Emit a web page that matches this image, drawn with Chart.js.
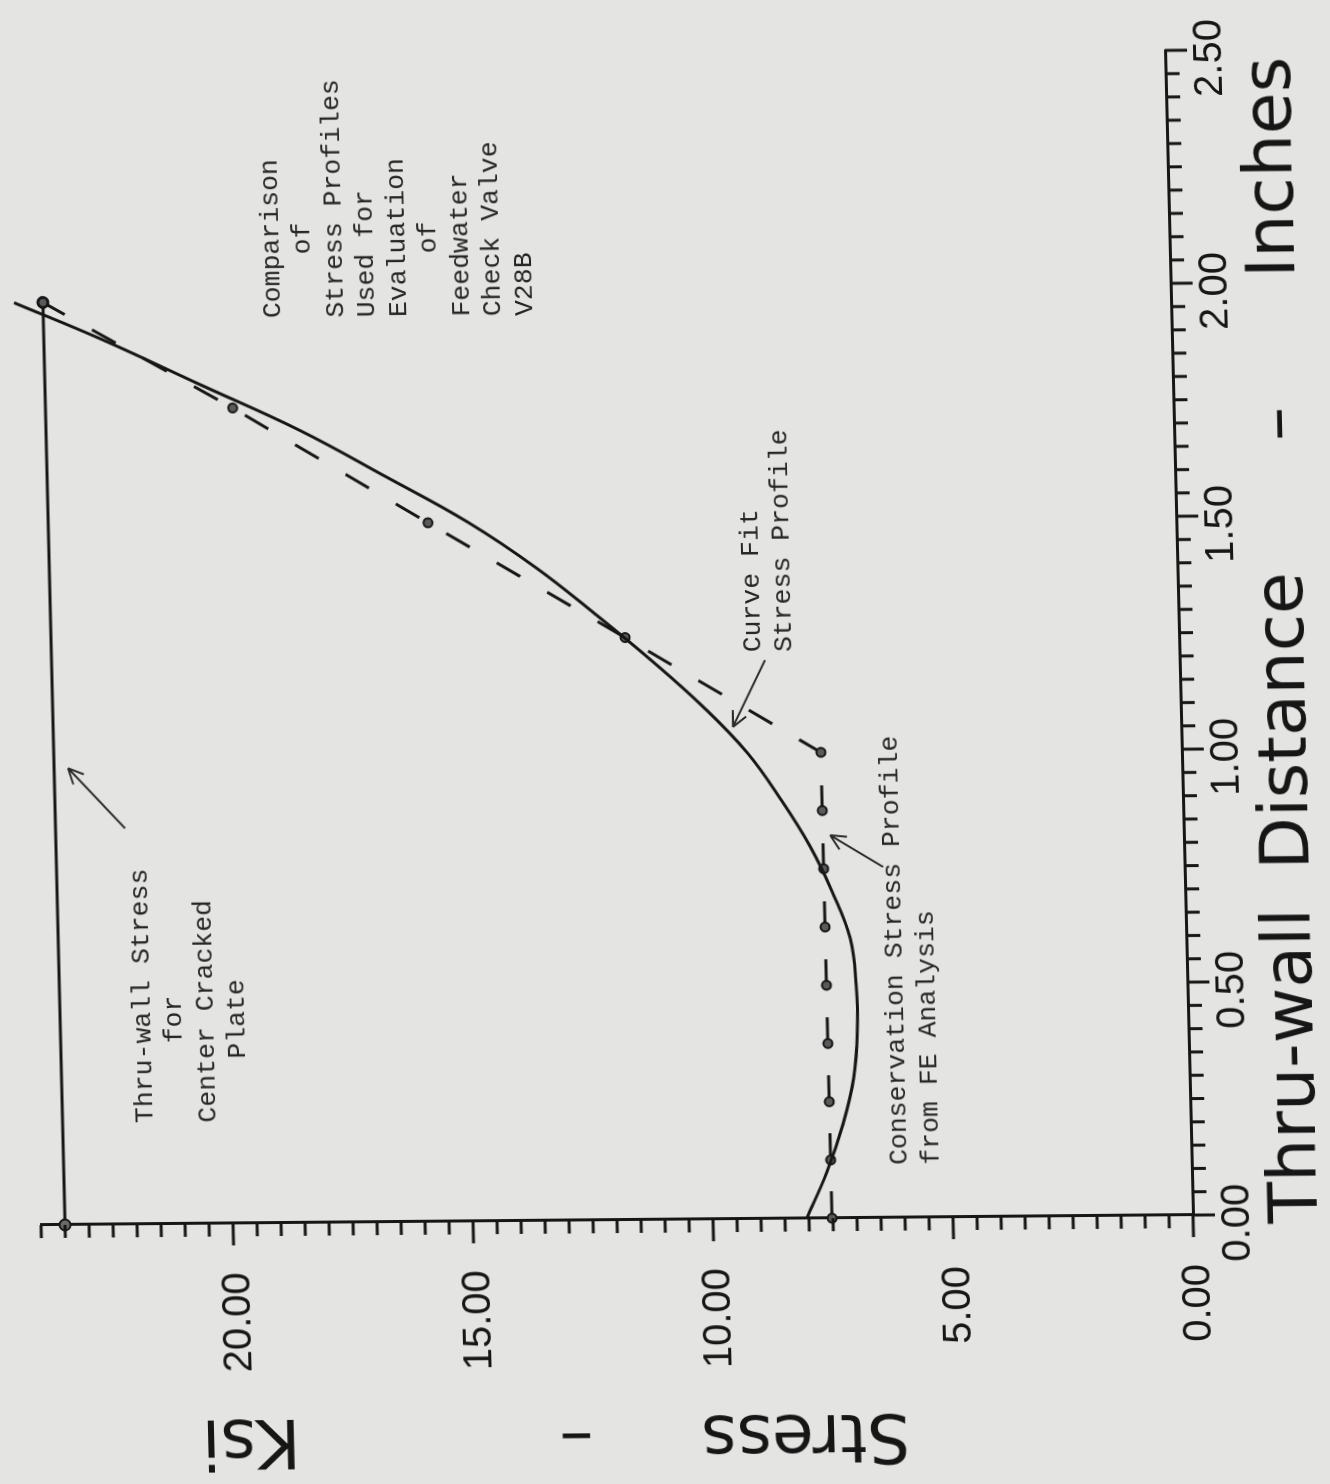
<!DOCTYPE html>
<html>
<head>
<meta charset="utf-8">
<script src="https://cdn.jsdelivr.net/npm/chart.js@4.4.0/dist/chart.umd.min.js"></script>
<style>
  html, body { margin: 0; padding: 0; background: #e4e4e2; overflow: hidden; width: 1330px; height: 1484px; }
  /* plot is drawn upright, then turned a quarter turn (plus the scan's slight skew) */
  #wrap { position: absolute; left: 0; top: 0; width: 1484px; height: 1330px;
    transform-origin: 0 0; transform: matrix(-0.024, -1, 1, -0.0087, 4.5, 1494.4); }
  canvas { display: block; }
</style>
</head>
<body>
<div id="wrap"><canvas id="chart" width="1484" height="1330"></canvas></div>
<script>
// Thru-wall distance (in) and stress (ksi)
const curveDist = [0, 0.1, 0.2, 0.3, 0.4, 0.5, 0.6, 0.7, 0.8, 0.9, 1.0, 1.1, 1.2, 1.3, 1.4, 1.5, 1.6, 1.7, 1.8, 1.9, 1.98];
const curveStress = [8.05, 7.6, 7.25, 7.0, 6.9, 6.9, 7.0, 7.35, 7.8, 8.38, 9.05, 9.95, 11.0, 12.14, 13.34, 14.75, 16.45, 18.2, 20.25, 22.3, 24.1];

const feDist = [0, 0.125, 0.25, 0.375, 0.5, 0.625, 0.75, 0.875, 1.0, 1.25, 1.5, 1.75, 1.98];
const feStress = [7.52, 7.52, 7.52, 7.52, 7.52, 7.52, 7.52, 7.52, 7.52, 11.54, 15.59, 19.6, 23.5];

const plateDist = [0, 1.98];
const plateStress = [23.5, 23.5];

const distLabels = [0, 0.5, 1.0, 1.5, 2.0, 2.5];
const stressLabels = [0, 5, 10, 15, 20];

const noteTitle = ['Comparison', '    of', 'Stress Profiles', 'Used for', 'Evaluation', '    of', 'Feedwater', 'Check Valve', 'V28B'];
const notePlate = ['Thru-wall Stress', '     for', 'Center Cracked', '    Plate'];
const noteCurve = ['Curve Fit', 'Stress Profile'];
const noteFE = ['Conservation Stress Profile', 'from FE Analysis'];

const ink = '#161616';
const pts = (xs, ys) => xs.map((x, i) => ({ x, y: ys[i] }));
const isOn = (v, list) => list.some(t => Math.abs(t - v) < 1e-6);

// where the notes sit, in data units (first line start), and arrows tail -> tip
const notes = [
  { lines: noteTitle, at: [1.942, 18.71] },
  { lines: notePlate, at: [0.217, 21.78] },
  { lines: noteCurve, at: [1.216, 8.88] },
  { lines: noteFE, at: [0.113, 6.08] }
];
const arrows = [
  { from: [0.85, 22.05], to: [0.98, 23.21] },
  { from: [1.199, 8.64], to: [1.056, 9.34] },
  { from: [0.753, 6.28], to: [0.822, 7.37] }
];
const distTitle = [['Thru-wall', -0.02], ['Distance', 0.74], ['\u2013', 1.66], ['Inches', 2.01]];
const stressTitle = [['Stress', 6.0], ['\u2013', 12.6], ['Ksi', 18.7]];

const extras = {
  id: 'extras',
  afterDraw(chart) {
    const { ctx, chartArea: a, scales: { x, y } } = chart;
    ctx.save();
    ctx.strokeStyle = ink;
    ctx.lineWidth = 3;
    ctx.lineCap = 'butt';
    ctx.beginPath();
    x.ticks.forEach(t => {
      const px = x.getPixelForValue(t.value);
      const len = isOn(t.value, distLabels) ? 22 : 14;
      ctx.moveTo(px, a.bottom); ctx.lineTo(px, a.bottom + len);
    });
    y.ticks.forEach(t => {
      const py = y.getPixelForValue(t.value);
      const len = isOn(t.value, stressLabels) ? 22 : 13;
      ctx.moveTo(a.left, py); ctx.lineTo(a.left - len, py);
    });
    ctx.stroke();

    // typed notes
    ctx.fillStyle = '#262626';
    ctx.font = '26.5px "Liberation Mono", "DejaVu Sans Mono", monospace';
    ctx.textBaseline = 'middle';
    ctx.textAlign = 'left';
    notes.forEach(n => {
      const px = x.getPixelForValue(n.at[0]);
      const py = y.getPixelForValue(n.at[1]);
      n.lines.forEach((s, i) => ctx.fillText(s, px, py + i * 31.5));
    });

    // arrows
    ctx.strokeStyle = '#2b2b2b';
    ctx.lineWidth = 2;
    arrows.forEach(r => {
      const x1 = x.getPixelForValue(r.from[0]), y1 = y.getPixelForValue(r.from[1]);
      const x2 = x.getPixelForValue(r.to[0]), y2 = y.getPixelForValue(r.to[1]);
      const ang = Math.atan2(y2 - y1, x2 - x1);
      ctx.beginPath();
      ctx.moveTo(x1, y1); ctx.lineTo(x2, y2);
      [0.45, -0.45].forEach(d => {
        ctx.moveTo(x2, y2);
        ctx.lineTo(x2 - 17 * Math.cos(ang + d), y2 - 17 * Math.sin(ang + d));
      });
      ctx.stroke();
    });

    // axis titles
    ctx.fillStyle = ink;
    ctx.font = '68px "DejaVu Sans", sans-serif';
    ctx.textBaseline = 'alphabetic';
    distTitle.forEach(([s, d]) => ctx.fillText(s, x.getPixelForValue(d), a.bottom + 124));
    ctx.translate(a.left - 197, 0);
    ctx.rotate(-Math.PI / 2);
    stressTitle.forEach(([s, v]) => ctx.fillText(s, -y.getPixelForValue(v), 0));
    ctx.restore();
  }
};

const tickFont = { family: '"Liberation Sans", Arial, sans-serif', size: 40 };
const noPad = s => { s.paddingTop = 0; s.paddingBottom = 0; s.paddingLeft = 0; s.paddingRight = 0; };

new Chart(document.getElementById('chart'), {
  type: 'line',
  data: {
    datasets: [
      {
        data: pts(curveDist, curveStress),
        borderColor: ink, borderWidth: 3, tension: 0.4,
        pointRadius: 0, clip: false
      },
      {
        data: pts(feDist, feStress),
        borderColor: ink, borderWidth: 3, borderDash: [27, 31], tension: 0,
        pointRadius: 4.5, pointBackgroundColor: '#5a5a5a', pointBorderColor: ink, pointBorderWidth: 2,
        clip: false
      },
      {
        data: pts(plateDist, plateStress),
        borderColor: ink, borderWidth: 3, tension: 0,
        pointRadius: 5.5, pointBackgroundColor: '#6a6a6a', pointBorderColor: ink, pointBorderWidth: 2,
        clip: false
      }
    ]
  },
  options: {
    responsive: false,
    animation: false,
    devicePixelRatio: 1,
    layout: { padding: { left: 0, right: 50, top: 43, bottom: 0 } },
    plugins: { legend: { display: false }, tooltip: { enabled: false } },
    scales: {
      x: {
        type: 'linear', position: 'bottom', min: 0, max: 2.5,
        afterFit: s => { s.height = 135; noPad(s); },
        grid: { display: false, drawTicks: false },
        border: { display: true, color: ink, width: 3 },
        ticks: {
          stepSize: 0.05, maxTicksLimit: 100, autoSkip: false, maxRotation: 0, minRotation: 0,
          padding: 21, labelOffset: -8, color: ink, font: tickFont,
          callback: v => isOn(v, distLabels) ? v.toFixed(2) : ''
        }
      },
      y: {
        type: 'linear', position: 'left', min: 0, max: 24,
        afterFit: s => { s.width = 269; noPad(s); },
        grid: { display: false, drawTicks: false },
        border: { display: true, color: ink, width: 3 },
        ticks: {
          stepSize: 0.5, maxTicksLimit: 100, autoSkip: false,
          padding: 49, labelOffset: 4, color: ink, font: tickFont,
          callback: v => isOn(v, stressLabels) ? v.toFixed(2) : ''
        }
      }
    }
  },
  plugins: [extras]
});
</script>
</body>
</html>
